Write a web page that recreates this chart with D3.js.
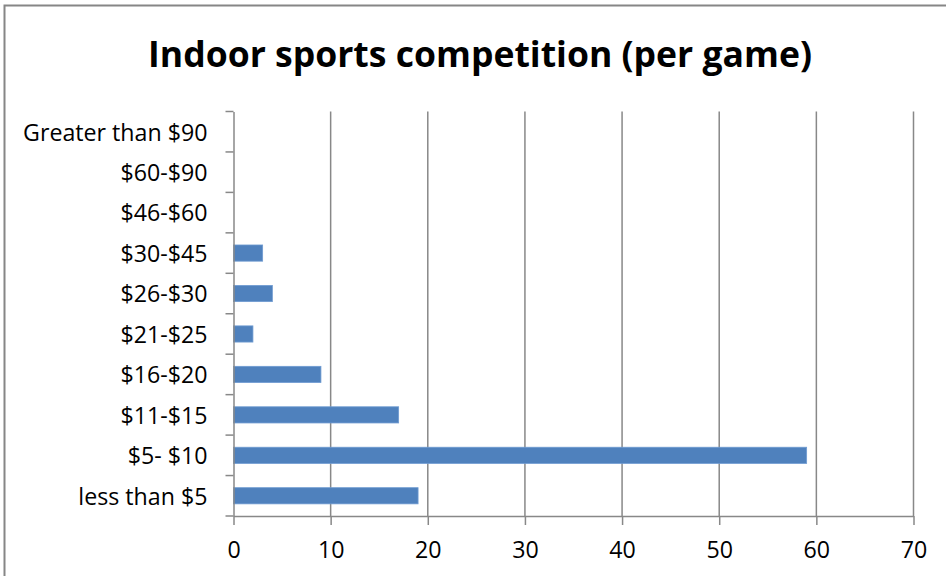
<!DOCTYPE html>
<html>
<head>
<meta charset="utf-8">
<script src="https://cdn.jsdelivr.net/npm/d3@7"></script>
<style>
  html, body { margin: 0; padding: 0; background: #fff; }
  svg { display: block; }
</style>
</head>
<body>
<svg id="chart" width="946" height="576"></svg>
<script>
// Price ranges, listed bottom to top as they appear on the axis
const categories = [
  "less than $5", "$5- $10", "$11-$15", "$16-$20", "$21-$25",
  "$26-$30", "$30-$45", "$46-$60", "$60-$90", "Greater than $90"
];
const counts = [19, 59, 17, 9, 2, 4, 3, 0, 0, 0];
const xTicks = [0, 10, 20, 30, 40, 50, 60, 70];
const titleText = "Indoor sports competition (per game)";

const svg = d3.select("#chart");
const W = 946, H = 576;
const plot = { left: 233.5, right: 913.5, top: 111.5, bottom: 516 };
const gridColor = "#888888";
const font = "'Open Sans', 'Noto Sans', sans-serif";
const labelSize = 23.2;

// Outer chart frame
svg.append("rect")
  .attr("x", 4.5).attr("y", 5.5)
  .attr("width", W + 10).attr("height", H + 10)
  .attr("fill", "#fff").attr("stroke", "#868686").attr("stroke-width", 2);

// Title, sized to span its line
const title = svg.append("text")
  .attr("x", 480).attr("y", 67)
  .attr("text-anchor", "middle")
  .attr("font-family", font).attr("font-weight", "bold")
  .attr("font-size", 32).attr("fill", "#000")
  .text(titleText);
const tw = title.node().getComputedTextLength();
title.attr("font-size", 32 * 664 / tw);

const x = d3.scaleLinear().domain([0, 70]).range([plot.left, plot.right]);
const y = d3.scaleBand().domain(categories)
  .range([plot.bottom, plot.top]).paddingInner(0.6).paddingOuter(0.3);

// Vertical gridlines
svg.append("g").selectAll("line").data(xTicks.slice(1)).join("line")
  .attr("x1", d => x(d)).attr("x2", d => x(d))
  .attr("y1", plot.top).attr("y2", plot.bottom)
  .attr("stroke", gridColor).attr("stroke-width", 1.5);

// Bars
svg.append("g").selectAll("rect").data(categories).join("rect")
  .attr("x", x(0))
  .attr("y", d => y(d))
  .attr("width", (d, i) => x(counts[i]) - x(0))
  .attr("height", y.bandwidth())
  .attr("fill", "#4F81BD")
  .attr("stroke", "#6f9bd1").attr("stroke-width", 0.8);

// Category axis
const yAxis = d3.axisLeft(y.copy().paddingInner(0).paddingOuter(0)).tickSize(0).tickPadding(26);
const gy = svg.append("g").attr("transform", `translate(${plot.left},0)`).call(yAxis);
gy.select(".domain").attr("stroke", gridColor).attr("stroke-width", 1.5);
gy.selectAll("text").attr("font-family", font).attr("font-size", labelSize)
  .attr("dy", "0.38em").attr("fill", "#000");
// Dividing ticks between categories
const bandStep = (plot.bottom - plot.top) / categories.length;
svg.append("g").selectAll("line").data(d3.range(categories.length + 1)).join("line")
  .attr("x1", plot.left - 8).attr("x2", plot.left)
  .attr("y1", i => plot.bottom - i * bandStep).attr("y2", i => plot.bottom - i * bandStep)
  .attr("stroke", gridColor).attr("stroke-width", 1.5);

// Value axis
const xAxis = d3.axisBottom(x).tickValues(xTicks).tickSize(9).tickSizeOuter(0).tickPadding(17);
const gx = svg.append("g").attr("transform", `translate(0,${plot.bottom})`).call(xAxis);
gx.select(".domain").attr("stroke", gridColor).attr("stroke-width", 1.5);
gx.selectAll("line").attr("stroke", gridColor).attr("stroke-width", 1.5);
gx.selectAll("text").attr("font-family", font).attr("font-size", labelSize).attr("fill", "#000");
</script>
</body>
</html>
